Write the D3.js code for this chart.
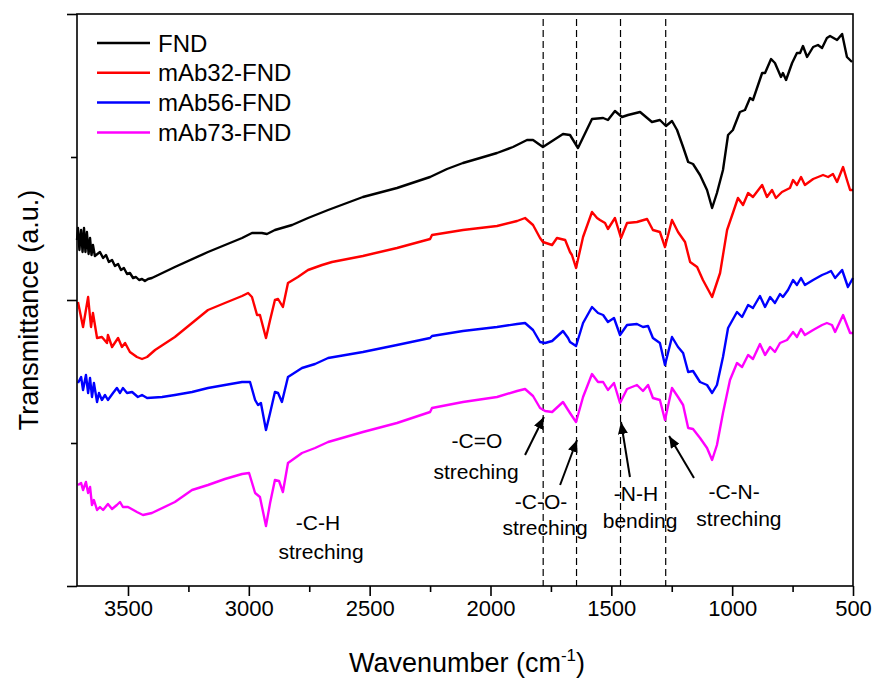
<!DOCTYPE html>
<html>
<head>
<meta charset="utf-8">
<script src="https://cdn.jsdelivr.net/npm/d3@7"></script>
<style>
  body { margin: 0; background: #fff; }
  text { font-family: "Liberation Sans", Arial, sans-serif; fill: #000; }
</style>
</head>
<body>
<div id="chart"></div>
<script>
// Chart size
var chart_width  = 876;
var chart_height = 680;
var margin = { top: 14, right: 23, bottom: 94, left: 77 };

// Data: [wavenumber (cm-1), transmittance (a.u., offset for stacking)]
var fnd = [
  [3711,34.6],[3707,35.8],[3701,33.6],[3694,35.6],[3688,33.4],[3682,35.8],[3676,33.4],[3670,35.4],
  [3663,33.2],[3657,34.8],[3651,33.1],[3645,34.1],[3637,33.0],[3616,33.4],[3603,32.8],[3591,33.1],
  [3579,32.4],[3566,32.6],[3554,32.0],[3541,32.2],[3529,31.6],[3517,31.8],[3504,31.2],[3492,31.3],
  [3479,30.8],[3467,30.9],[3454,30.6],[3442,30.7],[3430,30.5],[3417,30.7],[3401,30.8],[3306,31.9],
  [3169,33.4],[3028,34.8],[2987,35.3],[2946,35.3],[2925,35.2],[2892,35.6],[2821,36.1],[2755,36.8],
  [2672,37.6],[2528,38.9],[2387,39.8],[2250,40.9],[2180,41.7],[2114,42.3],[2043,42.8],[1973,43.3],
  [1907,43.9],[1849,44.6],[1824,44.6],[1783,43.9],[1700,45.2],[1671,45.1],[1638,43.8],[1580,46.7],
  [1534,46.8],[1514,46.6],[1485,47.5],[1456,46.9],[1431,47.1],[1381,47.4],[1332,46.4],[1299,46.6],
  [1274,46.0],[1249,46.5],[1228,45.6],[1203,43.9],[1182,42.4],[1162,42.2],[1133,41.1],[1104,39.6],
  [1083,37.8],[1063,39.3],[1038,41.6],[1017,45.1],[997,45.6],[968,47.4],[947,47.6],[926,48.8],
  [914,48.6],[876,51.3],[864,51.3],[839,52.7],[823,52.3],[798,50.9],[790,51.3],[777,50.6],
  [752,52.3],[732,53.3],[719,53.3],[707,54.0],[690,52.9],[665,53.9],[645,54.1],[628,53.8],
  [608,54.8],[595,55.0],[566,54.6],[545,55.2],[525,52.9],[504,52.4]
];

var mab32 = [
  [3707,28.4],[3686,25.9],[3665,28.9],[3653,25.9],[3645,27.3],[3628,24.8],[3608,24.9],[3587,24.3],
  [3583,25.1],[3566,23.9],[3541,24.8],[3525,23.9],[3512,24.3],[3492,23.4],[3463,22.9],[3442,22.7],
  [3421,22.9],[3388,23.6],[3306,24.9],[3235,26.3],[3169,27.6],[3099,28.3],[3028,29.0],[3003,29.3],
  [2987,28.9],[2966,27.1],[2954,27.1],[2929,24.8],[2912,26.6],[2892,28.6],[2879,28.7],[2859,27.9],
  [2838,30.3],[2797,30.9],[2755,31.6],[2697,32.1],[2656,32.4],[2528,33.0],[2387,33.8],[2250,34.7],
  [2242,35.1],[2114,35.6],[1973,36.0],[1890,36.5],[1857,36.8],[1824,36.1],[1795,34.8],[1783,34.4],
  [1745,34.1],[1725,34.8],[1691,34.6],[1671,33.4],[1663,33.1],[1646,31.8],[1617,34.9],[1580,37.4],
  [1559,36.8],[1547,36.6],[1526,36.3],[1514,35.7],[1485,36.8],[1460,34.8],[1435,36.3],[1394,36.4],
  [1352,36.7],[1328,35.6],[1299,35.4],[1278,33.9],[1249,36.6],[1224,35.4],[1195,34.4],[1174,32.4],
  [1145,31.9],[1121,30.6],[1083,28.9],[1050,31.3],[1021,35.6],[997,37.3],[976,38.8],[955,38.1],
  [934,39.3],[914,38.9],[876,40.1],[856,38.9],[835,39.6],[819,38.8],[794,39.4],[761,39.8],
  [748,40.6],[732,40.1],[715,40.9],[699,40.1],[665,40.7],[624,41.1],[603,40.9],[583,41.2],
  [566,40.4],[541,41.9],[525,40.6],[512,39.6],[500,39.6]
];

var mab56 = [
  [3707,20.3],[3694,20.9],[3686,19.6],[3674,21.1],[3665,19.3],[3657,20.8],[3649,18.9],[3641,20.3],
  [3628,18.4],[3620,19.3],[3608,18.6],[3595,19.1],[3583,18.6],[3562,19.3],[3546,19.8],[3533,19.3],
  [3521,19.8],[3504,19.3],[3483,19.4],[3459,18.9],[3442,19.1],[3421,18.8],[3359,18.9],[3306,19.1],
  [3235,19.4],[3169,19.8],[3099,20.1],[3028,20.4],[2995,20.4],[2974,18.6],[2962,18.1],[2950,18.3],
  [2929,15.6],[2912,17.3],[2892,19.4],[2879,19.3],[2863,18.4],[2838,20.9],[2780,21.8],[2726,22.2],
  [2672,22.8],[2528,23.4],[2387,24.1],[2250,24.8],[2242,25.0],[2114,25.5],[1973,25.9],[1890,26.2],
  [1857,26.3],[1824,25.6],[1795,24.4],[1774,24.3],[1745,24.5],[1700,25.5],[1679,24.8],[1671,24.4],
  [1646,24.0],[1617,26.3],[1580,27.9],[1555,27.3],[1534,27.1],[1514,26.4],[1489,26.8],[1464,25.1],
  [1435,26.1],[1394,26.2],[1369,25.9],[1348,26.0],[1328,24.8],[1299,24.3],[1278,22.1],[1249,24.9],
  [1224,23.9],[1203,23.3],[1182,21.4],[1162,21.5],[1133,20.4],[1104,20.1],[1083,19.3],[1063,20.1],
  [1038,22.9],[1017,25.8],[980,27.4],[959,26.9],[934,28.1],[914,27.8],[885,29.0],[864,27.9],
  [843,28.9],[823,28.3],[802,29.2],[790,28.9],[769,29.6],[748,30.6],[732,30.1],[715,30.8],
  [699,30.1],[665,30.6],[628,31.1],[608,31.3],[591,31.5],[574,30.8],[545,31.6],[521,29.9],[500,30.8]
];

var mab73 = [
  [3707,10.1],[3694,10.3],[3686,9.6],[3674,10.4],[3665,9.3],[3657,9.9],[3649,8.1],[3641,8.6],
  [3628,7.6],[3616,7.9],[3603,7.6],[3583,8.2],[3566,7.7],[3546,8.1],[3533,8.4],[3521,7.9],
  [3500,7.9],[3463,7.4],[3438,7.1],[3401,7.3],[3306,8.4],[3235,9.6],[3169,10.1],[3099,10.7],
  [3028,11.2],[2999,11.3],[2974,9.3],[2954,8.9],[2929,6.0],[2912,8.3],[2892,10.6],[2875,10.5],
  [2859,9.4],[2838,12.3],[2780,13.3],[2726,13.8],[2672,14.4],[2528,15.4],[2387,16.3],[2250,17.4],
  [2242,17.8],[2114,18.4],[1973,18.9],[1890,19.5],[1857,19.7],[1824,19.0],[1795,17.8],[1774,17.5],
  [1745,17.4],[1700,18.4],[1679,17.6],[1671,17.3],[1646,16.4],[1617,18.9],[1580,21.2],[1555,20.4],
  [1534,20.4],[1514,19.6],[1489,20.3],[1464,18.3],[1435,19.7],[1394,20.1],[1369,19.5],[1348,20.1],
  [1328,18.8],[1299,18.6],[1278,16.6],[1249,19.8],[1224,18.9],[1203,18.1],[1182,15.8],[1162,15.7],
  [1133,14.8],[1104,13.8],[1083,12.6],[1063,14.1],[1038,17.3],[1009,20.6],[980,22.3],[959,21.9],
  [934,23.1],[914,22.7],[885,24.2],[864,23.1],[843,23.9],[823,23.4],[802,24.3],[773,24.6],
  [748,25.4],[732,24.9],[715,25.7],[699,25.1],[665,25.6],[628,26.1],[608,26.3],[587,26.1],
  [574,25.4],[541,27.1],[512,25.3],[500,25.3]
];

var series_names  = ['FND', 'mAb32-FND', 'mAb56-FND', 'mAb73-FND'];
var series_colors = ['#000000', '#ff0000', '#0000ff', '#ff00ff'];
var series_data   = [fnd, mab32, mab56, mab73];

// Axis ticks
var x_major_ticks = [3500, 3000, 2500, 2000, 1500, 1000, 500];
var x_minor_ticks = [3250, 2750, 2250, 1750, 1250, 750];
var y_major_ticks = [0, 28.6, 57.2];
var y_minor_ticks = [14.3, 42.9];

// Band positions (dashed lines)
var band_lines = [1782, 1644, 1462, 1275];

// Annotations: text lines at [wavenumber, value]
var band_labels = [
  { text: '-C-H',      x: 2714, y: 5.6 },
  { text: 'streching', x: 2701, y: 2.7 },
  { text: '-C=O',      x: 2056, y: 13.8 },
  { text: 'streching', x: 2060, y: 10.7 },
  { text: '-C-O-',     x: 1791, y: 7.7 },
  { text: 'streching', x: 1774, y: 5.1 },
  { text: '-N-H',      x: 1398, y: 8.5 },
  { text: 'bending',   x: 1381, y: 5.8 },
  { text: '-C-N-',     x: 992,  y: 8.7 },
  { text: 'streching', x: 972,  y: 6.0 }
];

// Arrows: from [x1,y1] to [x2,y2]
var band_arrows = [
  [1857, 13.1, 1779, 16.9],
  [1712, 10.1, 1642, 14.6],
  [1423, 10.9, 1460, 16.4],
  [1158, 10.8, 1261, 15.0]
];

var svg = d3.select('#chart')
            .append('svg')
            .attr('width', chart_width)
            .attr('height', chart_height);

var x = d3.scaleLinear()
          .domain([3711, 500])
          .range([margin.left, chart_width - margin.right]);
var y = d3.scaleLinear()
          .domain([0, 57.2])
          .range([chart_height - margin.bottom, margin.top]);

var x0 = margin.left, x1 = chart_width - margin.right;
var y0 = chart_height - margin.bottom, y1 = margin.top;

// Arrow head
svg.append('defs').append('marker')
   .attr('id', 'arrowhead')
   .attr('viewBox', '0 0 12 10')
   .attr('refX', 12).attr('refY', 5)
   .attr('markerWidth', 12).attr('markerHeight', 10)
   .attr('markerUnits', 'userSpaceOnUse')
   .attr('orient', 'auto')
   .append('path')
   .attr('d', 'M0,0 L12,5 L0,10 Z')
   .attr('fill', '#000');

// Dashed band lines
svg.selectAll('.band')
   .data(band_lines)
   .enter()
   .append('line')
   .attr('x1', function(d){ return x(d); })
   .attr('x2', function(d){ return x(d); })
   .attr('y1', y(56.7))
   .attr('y2', y0)
   .attr('stroke', '#000')
   .attr('stroke-width', 1.2)
   .attr('stroke-dasharray', '7,4');

// Spectra
var line = d3.line()
             .x(function(d){ return x(d[0]); })
             .y(function(d){ return y(d[1]); });

svg.selectAll('.spectrum')
   .data(series_data)
   .enter()
   .append('path')
   .attr('d', line)
   .attr('fill', 'none')
   .attr('stroke', function(d, i){ return series_colors[i]; })
   .attr('stroke-width', 2.4)
   .attr('stroke-linejoin', 'round');

// Frame
svg.append('rect')
   .attr('x', x0).attr('y', y1)
   .attr('width', x1 - x0).attr('height', y0 - y1)
   .attr('fill', 'none')
   .attr('stroke', '#000')
   .attr('stroke-width', 1.6);

// Bottom axis
var x_axis = svg.append('g').attr('transform', 'translate(0,' + y0 + ')');
x_axis.call(d3.axisBottom(x).tickValues(x_major_ticks).tickSize(10).tickPadding(4).tickFormat(d3.format('d')));
x_axis.append('g').call(d3.axisBottom(x).tickValues(x_minor_ticks).tickSize(6).tickFormat(''));
x_axis.selectAll('.domain').remove();
x_axis.selectAll('line').attr('stroke-width', 1.6);
x_axis.selectAll('text')
      .style('font-family', '"Liberation Sans", Arial, sans-serif')
      .style('font-size', '22px')
      .attr('fill', '#000');

// Left axis (no labels)
var y_axis = svg.append('g').attr('transform', 'translate(' + x0 + ',0)');
y_axis.call(d3.axisLeft(y).tickValues(y_major_ticks).tickSize(10).tickFormat(''));
y_axis.append('g').call(d3.axisLeft(y).tickValues(y_minor_ticks).tickSize(6).tickFormat(''));
y_axis.selectAll('.domain').remove();
y_axis.selectAll('line').attr('stroke-width', 1.6);

// Axis titles
var x_title = svg.append('text')
   .attr('x', 467)
   .attr('y', 672)
   .attr('text-anchor', 'middle')
   .style('font-size', '27px');
x_title.append('tspan').text('Wavenumber (cm');
x_title.append('tspan').attr('dy', -11).style('font-size', '17px').text('-1');
x_title.append('tspan').attr('dy', 11).text(')');

svg.append('text')
   .attr('transform', 'translate(38,310) rotate(-90)')
   .attr('text-anchor', 'middle')
   .style('font-size', '27px')
   .text('Transmittance (a.u.)');

// Legend
var legend = svg.selectAll('.legend')
   .data(series_names)
   .enter()
   .append('g')
   .attr('transform', function(d, i){ return 'translate(97,' + (43 + i * 29.8) + ')'; });
legend.append('line')
   .attr('x1', 0).attr('x2', 53)
   .attr('y1', 0).attr('y2', 0)
   .attr('stroke', function(d, i){ return series_colors[i]; })
   .attr('stroke-width', 2.5);
legend.append('text')
   .attr('x', 61)
   .attr('y', 8.5)
   .style('font-size', '24px')
   .text(function(d){ return d; });

// Band annotations
svg.selectAll('.band-label')
   .data(band_labels)
   .enter()
   .append('text')
   .attr('x', function(d){ return x(d.x); })
   .attr('y', function(d){ return y(d.y); })
   .attr('text-anchor', 'middle')
   .style('font-size', '21px')
   .text(function(d){ return d.text; });

svg.selectAll('.band-arrow')
   .data(band_arrows)
   .enter()
   .append('line')
   .attr('x1', function(d){ return x(d[0]); })
   .attr('y1', function(d){ return y(d[1]); })
   .attr('x2', function(d){ return x(d[2]); })
   .attr('y2', function(d){ return y(d[3]); })
   .attr('stroke', '#000')
   .attr('stroke-width', 2)
   .attr('marker-end', 'url(#arrowhead)');
</script>
</body>
</html>
